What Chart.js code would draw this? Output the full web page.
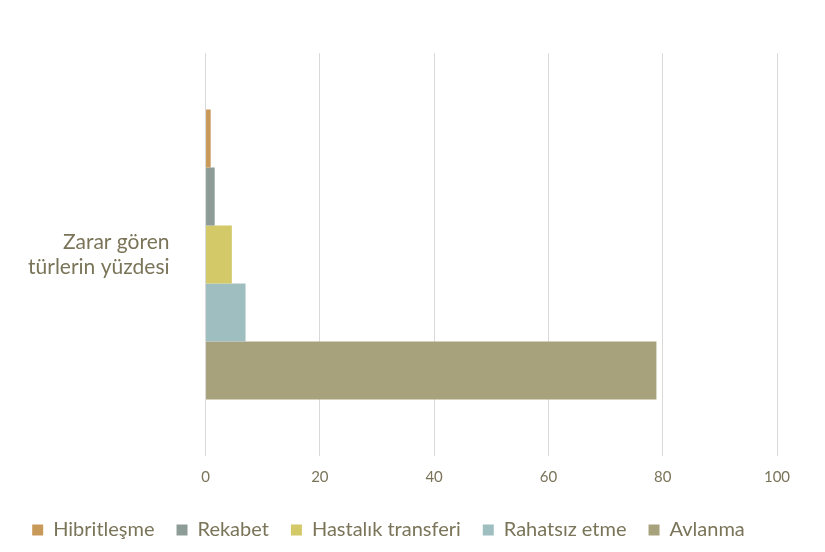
<!DOCTYPE html>
<html><head><meta charset="utf-8">
<script src="https://cdn.jsdelivr.net/npm/chart.js@4"></script>
<style>html,body{margin:0;background:#fff}#w{width:825px;height:552px}</style>
</head><body><div id="w"><canvas id="c"></canvas></div>
<script>
const categories = [["Zarar gören","türlerin yüzdesi"]];
const seriesNames = ["Hibritleşme","Rekabet","Hastalık transferi","Rahatsız etme","Avlanma"];
const seriesValues = [[0.9],[1.6],[4.6],[7],[78.9]];
const colors = ["#C9995A","#8E9C97","#D3C969","#9FBEBF","#A7A27B"];
const xTicks = [0,20,40,60,80,100];
Chart.defaults.font.family = "Lato, 'Open Sans', sans-serif";
Chart.defaults.color = "#7A7459";
new Chart(document.getElementById('c'), {
  type: 'bar',
  data: { labels: categories, datasets: seriesNames.map((n,i)=>({label:n,data:seriesValues[i],backgroundColor:colors[i],categoryPercentage:0.72,barPercentage:1})) },
  options: {
    indexAxis:'y', responsive:true, maintainAspectRatio:false, animation:false,
    layout:{padding:{top:-36,right:48,left:0,bottom:2}},
    plugins:{legend:{position:'bottom',labels:{boxWidth:11,boxHeight:11,font:{size:20},padding:22,color:'#7A7459'}},tooltip:{enabled:false}},
    scales:{
      x:{min:0,max:100,afterBuildTicks:a=>{a.ticks=xTicks.map(v=>({value:v}));},
         grid:{color:'#D9D9D9',drawTicks:false},border:{display:false},
         ticks:{font:{size:15},padding:12,color:'#7A7459'}},
      y:{grid:{display:false},border:{display:false},ticks:{font:{size:21},padding:28,color:'#7A7459'}}
    }
  }
});
</script></body></html>
